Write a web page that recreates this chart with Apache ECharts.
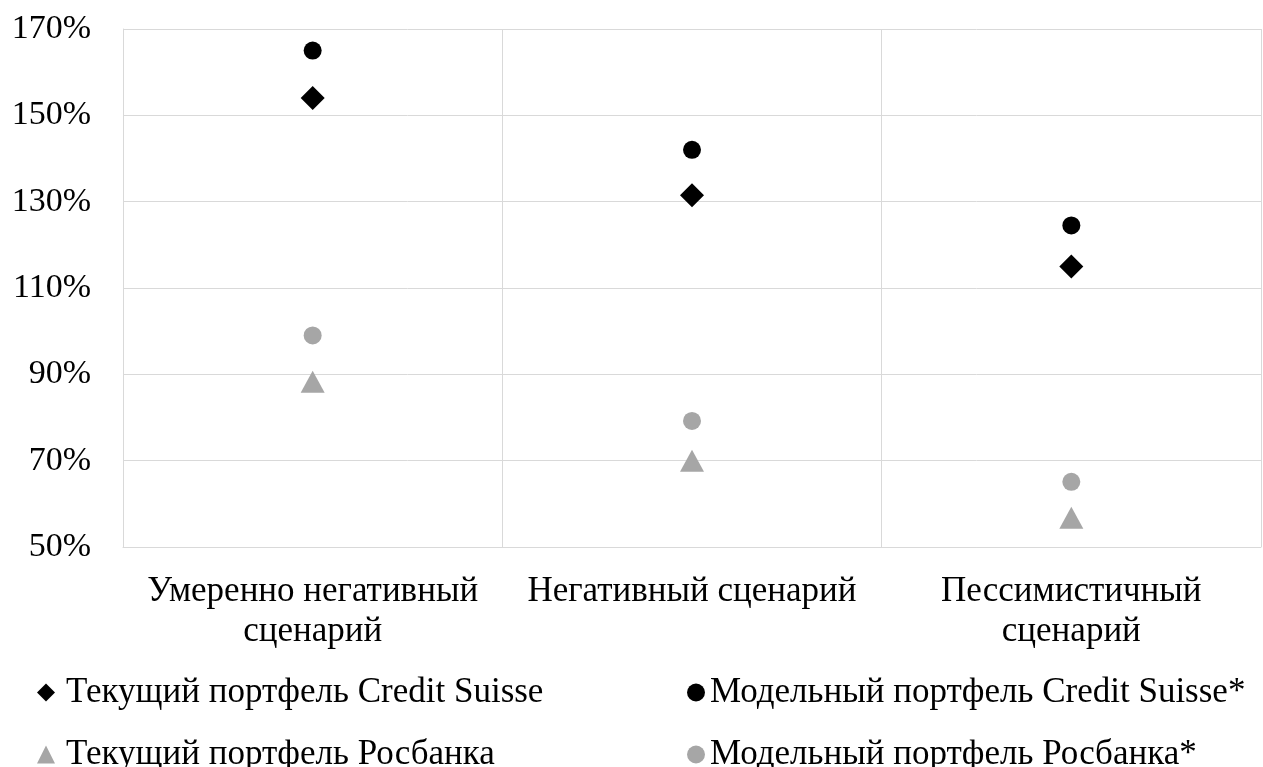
<!DOCTYPE html>
<html>
<head>
	<meta charset="utf-8"/>
	<title>Scenarios</title>
	<script src="https://cdn.jsdelivr.net/npm/echarts@6/dist/echarts.min.js"></script>
	<style>
		* { padding: 0px; margin: 0px; }
		body { background: #fff; }
		#chart { width: 1263px; height: 767px; }
	</style>
</head>
<body>
	<div id="chart"></div>
	<script>
		// данные
		const categories = ['Умеренно негативный\nсценарий', 'Негативный сценарий', 'Пессимистичный\nсценарий'];
		const currentCS = [154, 131.5, 115];
		const modelCS = [165, 142, 124.5];
		const currentRos = [88.3, 70, 56.8];
		const modelRos = [99, 79.2, 65.1];
		const yTicks = { min: 50, max: 170, interval: 20 };

		const font = '"Liberation Serif", "Times New Roman", serif';
		const grey = '#a6a6a6';

		// one legend per item so the 2x2 layout stays put
		function legendItem(name, left, top, pad) {
			return {
				orient: 'horizontal',
				left: left, top: top,
				padding: 0,
				itemWidth: 18, itemHeight: 18,
				textStyle: { fontFamily: font, fontSize: 35, color: '#000', lineHeight: 30, padding: [0, 0, 0, pad] },
				data: [name]
			};
		}

		let myChart = echarts.init(document.getElementById('chart'));
		let option = {
			animation: false,
			textStyle: { fontFamily: font },
			grid: { left: 123, right: 2, top: 29, bottom: 220 },
			legend: [
				legendItem('Текущий портфель Credit Suisse', 37, 675, 6),
				legendItem('Модельный портфель Credit Suisse*', 687, 675, 0),
				legendItem('Текущий портфель Росбанка', 37, 737, 6),
				legendItem('Модельный портфель Росбанка*', 687, 737, 0)
			],
			xAxis: {
				type: 'category',
				data: categories,
				boundaryGap: true,
				axisLine: { lineStyle: { color: '#d9d9d9', width: 1 } },
				axisTick: { show: false },
				splitLine: { show: true, lineStyle: { color: '#d9d9d9', width: 1 } },
				axisLabel: { fontFamily: font, fontSize: 35, color: '#000', lineHeight: 40, margin: 25, interval: 0 }
			},
			yAxis: {
				type: 'value',
				min: yTicks.min, max: yTicks.max, interval: yTicks.interval,
				axisLine: { show: true, lineStyle: { color: '#d9d9d9', width: 1 } },
				axisTick: { show: false },
				splitLine: { lineStyle: { color: '#d9d9d9', width: 1 } },
				axisLabel: { fontFamily: font, fontSize: 34, color: '#000', margin: 32, formatter: '{value}%' }
			},
			series: [{
				name: 'Текущий портфель Credit Suisse',
				type: 'scatter', symbol: 'diamond', symbolSize: 24,
				itemStyle: { color: '#000', opacity: 1 },
				data: currentCS
			}, {
				name: 'Модельный портфель Credit Suisse*',
				type: 'scatter', symbol: 'circle', symbolSize: 18,
				itemStyle: { color: '#000', opacity: 1 },
				data: modelCS
			}, {
				name: 'Текущий портфель Росбанка',
				type: 'scatter', symbol: 'triangle', symbolSize: [24, 22],
				itemStyle: { color: grey, opacity: 1 },
				data: currentRos
			}, {
				name: 'Модельный портфель Росбанка*',
				type: 'scatter', symbol: 'circle', symbolSize: 18,
				itemStyle: { color: grey, opacity: 1 },
				data: modelRos
			}]
		};
		myChart.setOption(option, true);
	</script>
</body>
</html>
